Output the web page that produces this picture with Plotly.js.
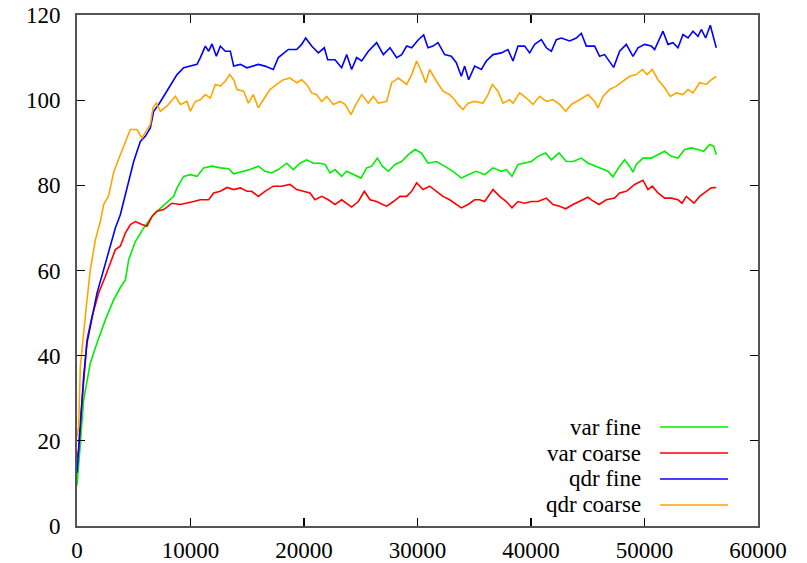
<!DOCTYPE html>
<html>
<head>
<meta charset="utf-8">
<script src="https://cdn.plot.ly/plotly-3.0.1.min.js"></script>
<style>html,body{margin:0;padding:0;background:#fff;}#chart{width:807px;height:563px;}</style>
</head>
<body>
<div id="chart"></div>
<script>
// ---- data ----
var seriesNames = ["var fine", "var coarse", "qdr fine", "qdr coarse"];
var seriesColors = ["#00ee00", "#ff0000", "#0000ff", "#ffa500"];

var varFineX = [0,150,294,587,1175,1762,2496,3230,3818,4259,4552,5140,5874,6755,7636,8517,8811,9398,9986,10573,11161,11895,12629,13363,13804,14538,15242,15976,16563,17151,17738,18472,19060,19648,20235,20822,21409,21850,22290,22731,23318,23759,24346,25022,25521,25962,26461,26902,27430,28018,28605,29193,29780,30336,30924,31658,32392,33127,33861,34448,35182,35917,36651,37385,37826,38325,38854,39441,40028,40616,41291,41791,42466,43113,43700,44434,45021,45313,46047,46782,47222,47810,48250,48691,48985,49278,49866,50600,51187,51775,52362,52950,53537,54124,54712,55211,55739,56092,56327];
var varFineY = [9.5,16,19.4,29.6,38.3,43,48.4,53.1,56,57.8,62.5,66.8,70,73.2,75.4,77.4,79.4,82.1,82.5,82.1,84.1,84.5,84.1,83.9,82.7,83.3,83.7,84.5,83.3,82.9,83.7,85.2,83.7,85.2,86.0,85.2,85.2,84.9,82.9,83.7,82.1,83.3,82.5,81.7,84.1,84.5,86.4,84.5,83.3,84.9,85.6,87.2,88.4,87.6,85.2,85.6,84.5,83.3,81.7,82.5,83.3,82.5,84.1,83.3,83.7,82.1,84.9,85.2,85.6,86.8,87.6,86.0,87.6,85.6,85.6,86.4,85.2,84.9,84.1,83.3,82.0,84.5,86.0,84.5,83.1,84.9,86.4,86.4,87.2,88.0,86.8,86.4,88.4,88.8,88.4,88.0,89.6,89.2,87.2];

var varCoarseX = [0,147,294,587,881,1322,1909,2496,2937,3378,3818,4259,4699,5140,5727,6168,6608,7049,7636,8370,9105,9692,10279,10867,11601,12042,12629,13217,13804,14391,14979,15388,15976,16563,17297,18032,18766,19354,20088,20528,20969,21556,22144,22731,23318,23759,24199,24787,25315,25815,26402,26843,27283,27871,28458,29046,29487,29927,30483,31071,31658,32245,32833,33420,33861,34448,35036,35476,35917,36651,37238,37826,38325,38854,39441,40028,40616,41350,41937,42525,43054,43700,44287,45021,45313,45989,46635,47369,47810,48397,49131,49866,50306,50688,51187,51775,52362,52950,53302,53684,54359,54859,55446,55886,56327];
var varCoarseY = [16,17.9,24.1,35.1,43.7,49.2,54.7,58.6,61.8,64.9,65.7,68.8,70.8,71.5,70.8,70.4,72.7,73.9,74.3,75.8,75.5,75.8,76.2,76.6,76.6,78.2,78.6,79.5,79.0,79.4,78.6,78.6,77.4,78.6,79.8,79.8,80.2,79.0,78.6,78.2,76.6,77.4,76.6,75.5,76.6,75.8,74.9,76.2,78.6,76.6,76.2,75.6,75.1,76.2,77.4,77.4,78.6,80.6,79.0,79.8,78.6,77.4,76.6,75.5,74.7,75.5,76.6,76.6,76.2,79.0,77.4,76.2,74.7,76.2,75.8,76.2,76.2,77.0,75.5,75.1,74.5,75.5,76.2,77.2,76.6,75.5,76.6,77.0,78.2,78.6,80.2,81.2,79.0,79.8,78.2,77.0,77.0,76.6,75.8,77.4,75.8,77.4,78.6,79.4,79.5];

var qdrFineX = [0,150,294,587,881,1322,1762,2350,2937,3378,3818,4406,4993,5580,6021,6461,6755,7196,7636,8224,8811,9398,9986,10573,10867,11307,11601,11895,12277,12629,13070,13510,13804,14391,14978,15419,15976,16563,17297,17738,18619,19353,19794,20146,20675,21262,21791,22085,22731,23318,23759,24199,24640,25081,25668,26402,26990,27577,28165,28605,29046,29487,30074,30542,30924,31364,31805,32392,32980,33420,33861,34155,34507,35036,35623,36063,36651,37385,37972,38413,38854,39441,39882,40322,40910,41350,41791,42231,42672,43406,43993,44434,44873,45607,46047,46488,46929,47281,47810,48397,48984,49425,50012,50600,50894,51628,52068,52509,52950,53390,53831,54271,54712,55006,55387,55798,56092,56327];
var qdrFineY = [12.5,18,23.4,35.1,43,49.2,54.7,60.2,65.7,70,73.1,79.4,85.6,90.3,91.5,93.5,97.4,99,100.9,103.7,106,107.6,108,108.4,110,112.7,111.5,113.2,110.3,112.7,111.5,111.5,108,108.4,107.6,108,108.4,108,107.2,110,111.9,111.9,113.1,114.6,112.7,111.1,112.3,109.5,109.5,107.6,110.7,107.2,110,109.2,111.5,113.5,110.7,112.3,110,110.7,112.7,112.3,114.2,115.3,112.3,112.7,113.5,110.7,110.3,108.8,105.6,108,104.8,108,107.2,109.2,110.7,111.1,111.9,109.2,112.7,112.7,111.1,113.1,114.2,112.3,111.5,114.2,114.6,113.9,114.6,115.7,112.7,112.7,110.3,110.7,109.1,107.7,111.5,113.1,110.3,112.3,113.1,112.7,111.9,116.2,113.1,113.5,112.3,115.4,114.6,116.2,115,116.6,114.6,117.6,114.6,112.3];

var qdrCoarseX = [0,147,294,587,881,1175,1615,2056,2350,2790,3231,3671,4259,4699,5287,5727,6168,6461,6696,6990,7343,7930,8664,9105,9692,9986,10426,10867,11307,11748,12189,12629,13070,13451,13804,14098,14685,15095,15535,15976,16417,17004,17591,18179,18766,19354,19794,20235,20675,21116,21556,21997,22584,23172,23613,24141,24493,25081,25668,26108,26549,27283,27724,28311,29046,29487,29926,30336,30718,31071,31658,32245,32833,33274,33567,34008,34448,35036,35770,36210,36592,37091,37532,38119,38413,39001,39588,40175,40763,41350,41937,42525,43054,43553,44287,45021,45607,45901,46341,46929,47516,48104,48691,49278,49807,50218,50688,51187,51775,52274,52802,53390,53831,54271,54859,55446,55886,56327];
var qdrCoarseY = [21,23.4,37.5,44.5,53.1,60.2,67.2,71.5,75.5,77.6,83.1,86.2,90,93.1,93.1,91.1,93.1,94.3,98.2,99.3,97.4,98.6,100.9,99.0,99.7,97.4,99.7,100.1,101.3,100.5,103.7,103.3,104.5,106.0,104.8,102.5,102.1,99.3,101.3,98.2,100.1,102.5,103.7,104.8,105.2,104.1,104.8,103.7,101.7,101.3,99.7,100.9,99.0,99.7,99.0,96.6,98.6,101.3,99.3,100.9,99.3,99.7,104.1,105.2,103.7,106.0,109.2,106.8,104.1,107.2,104.5,102.1,101.3,100.1,99.0,97.8,99.3,99.7,99.3,101.3,103.7,102.1,99.3,100.1,99.3,101.7,100.5,99.0,100.9,99.7,100.1,99.0,97.4,99.0,100.1,101.3,99.7,98.2,100.9,102.5,103.3,104.5,105.6,106.0,107.2,106.0,107.2,104.8,102.9,100.9,101.7,101.3,102.5,101.7,104.1,103.7,104.8,105.6];

var xTicks = [0,10000,20000,30000,40000,50000,60000];
var yTicks = [0,20,40,60,80,100,120];

// ---- chart ----
var xs = [varFineX, varCoarseX, qdrFineX, qdrCoarseX];
var ys = [varFineY, varCoarseY, qdrFineY, qdrCoarseY];
var traces = xs.map(function (x, i) {
  return {x: x, y: ys[i], type: 'scatter', mode: 'lines', name: seriesNames[i],
          line: {color: seriesColors[i], width: 1.6}, showlegend: false, hoverinfo: 'skip'};
});

var font = {family: '"Liberation Serif", serif', size: 23, color: '#000'};
var legendRowsY = [0.1937, 0.1428, 0.0920, 0.0411];
var annotations = [], shapes = [];
seriesNames.forEach(function (n, i) {
  annotations.push({xref: 'paper', yref: 'paper', x: 0.831, y: legendRowsY[i], text: n,
    showarrow: false, xanchor: 'right', yanchor: 'middle', font: font});
  shapes.push({type: 'line', xref: 'paper', yref: 'paper', x0: 0.856, x1: 0.956,
    y0: legendRowsY[i], y1: legendRowsY[i], line: {color: seriesColors[i], width: 1.5}});
});

var axisCommon = {showgrid: false, zeroline: false, showline: true, linecolor: '#555', linewidth: 2,
  mirror: 'allticks', ticks: 'inside', ticklen: 8, tickcolor: '#000', tickwidth: 1.2,
  tickfont: font, tickmode: 'array'};

var layout = {
  width: 807, height: 563,
  margin: {l: 77, r: 49, t: 15, b: 37},
  paper_bgcolor: '#fff', plot_bgcolor: '#fff',
  xaxis: Object.assign({}, axisCommon, {range: [0, 60000], tickvals: xTicks, ticktext: xTicks.map(String), ticklabelstandoff: 2}),
  yaxis: Object.assign({}, axisCommon, {range: [0, 120], tickvals: yTicks, ticktext: yTicks.map(String), ticklabelstandoff: 10}),
  annotations: annotations, shapes: shapes, showlegend: false
};

Plotly.newPlot('chart', traces, layout, {staticPlot: true, displayModeBar: false});
</script>
</body>
</html>
